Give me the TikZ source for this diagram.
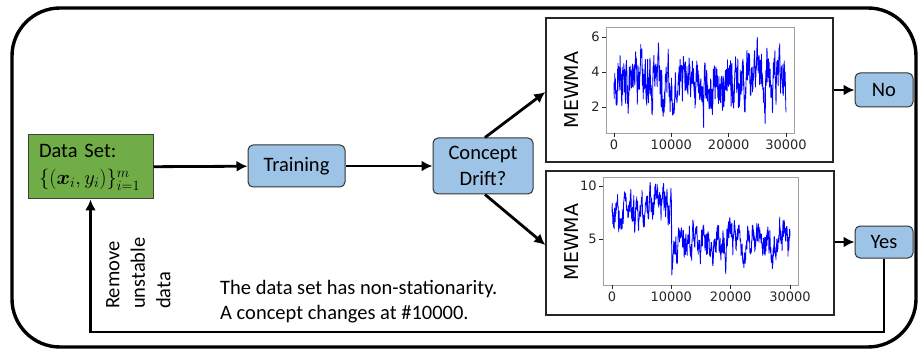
\RequirePackage{fix-cm}
\documentclass[tikz,border=0pt]{standalone}
\usepackage{amsmath}
\usepackage{bm}
\usepackage{fontspec}
\setmainfont{Carlito}
\newfontfamily\plotfont{DejaVu Sans}
\usetikzlibrary{arrows.meta,positioning,calc}

\definecolor{dsgreen}{RGB}{112,173,71}
\definecolor{stepblue}{RGB}{157,195,230}
\definecolor{axisgray}{RGB}{160,160,160}

\tikzset{
  blk/.style={draw=black!80,line width=1pt,fill=stepblue,rounded corners=5pt,align=center,inner sep=0pt},
  flow/.style={-{Latex[length=11pt,width=11pt]},line width=2.8pt},
  plotbox/.style={draw=black!85,line width=1.3pt,inner sep=0pt},
  ticklbl/.style={font=\plotfont\fontsize{13}{15}\selectfont,text=black!85,inner sep=2pt},
  ylbl/.style={font=\plotfont\fontsize{19}{22}\selectfont,rotate=90,inner sep=0pt}
}

\begin{document}
\begin{tikzpicture}[x=1pt,y=-1pt,every node/.append style={font=\fontsize{20.5}{25.5}\selectfont}]
  \useasboundingbox (0,0) rectangle (919,350);
  % outer frame
  \draw[line width=3.4pt,rounded corners=48pt] (12,8) rectangle (916,347);

  % blocks of the flow
  \node[draw=black!75,line width=1pt,fill=dsgreen,minimum width=125,minimum height=64,text width=103,align=left,inner sep=0pt] (data) at (90.5,167) {Data Set:\\[2pt] $\{(\bm{x}_i,y_i)\}_{i=1}^{m}$};
  \node[blk,minimum width=97,minimum height=42] (train) at (296.5,166) {Training};
  \node[blk,minimum width=100,minimum height=56] (drift) at (483,166) {Concept\\Drift?};
  \node[plotbox,minimum width=287,minimum height=144] (calm) at (689.5,90) {};
  \node[plotbox,minimum width=288,minimum height=144] (shift) at (690,243) {};
  \node[blk,minimum width=58,minimum height=34] (no) at (884,90) {No};
  \node[blk,minimum width=58,minimum height=32] (yes) at (884,242) {Yes};

  % top chart: no drift
  \node[ylbl] (calmlbl) at (572,90) {MEWMA};
  \begin{scope}[shift={(614,142)},x=5.733pt,y=17.5pt]
    \draw[axisgray,line width=0.8pt] (-1.4,0.51) rectangle (31.4,6.57);
    \foreach \t/\lbl in {0/0,10/10000,20/20000,30/30000}
      \draw[black!85,line width=0.8pt] (\t,0.51) -- ++(0,-4pt) node[ticklbl,below] {\lbl};
    \foreach \v in {2,4,6}
      \draw[black!85,line width=0.8pt] (-1.4,\v) -- ++(-4pt,0) node[ticklbl,left] {\v};
    \pgfmathsetseed{3}
    \xdef\val{3.4}\xdef\trace{(0,3.4)}
    \foreach \k in {1,...,900}{
      \pgfmathsetmacro\val{3.4+0.75*(\val-3.4)+1.0*rand}
      \pgfmathsetmacro\tpos{\k/30}
      \xdef\val{\val}\xdef\trace{\trace -- (\tpos,\val)}
    }
    \begin{scope}
      \clip (-1.4,0.51) rectangle (31.4,6.57);
      \draw[blue,line width=0.8pt,line join=round] \trace;
    \end{scope}
  \end{scope}

  % bottom chart: drift at 10000
  \node[ylbl] (shiftlbl) at (572,242) {MEWMA};
  \begin{scope}[shift={(612,292)},x=5.933pt,y=10.6pt]
    \draw[axisgray,line width=0.8pt] (-1.52,0.66) rectangle (31.35,10.85);
    \foreach \t/\lbl in {0/0,10/10000,20/20000,30/30000}
      \draw[black!85,line width=0.8pt] (\t,0.66) -- ++(0,-4pt) node[ticklbl,below] {\lbl};
    \foreach \v in {5,10}
      \draw[black!85,line width=0.8pt] (-1.52,\v) -- ++(-4pt,0) node[ticklbl,left] {\v};
    \pgfmathsetseed{17}
    \xdef\val{7.5}\xdef\trace{(0,7.5)}
    \foreach \k in {1,...,900}{
      \pgfmathsetmacro\tpos{\k/30}
      \pgfmathsetmacro\mu{\tpos<10 ? 7.7 : 4.7}
      \pgfmathsetmacro\val{\k==302 ? 1.6 : \mu+0.8*(\val-\mu)+1.0*rand}
      \xdef\val{\val}\xdef\trace{\trace -- (\tpos,\val)}
    }
    \begin{scope}
      \clip (-1.52,0.66) rectangle (31.35,10.85);
      \draw[blue,line width=0.8pt,line join=round] \trace;
    \end{scope}
  \end{scope}

  % connectors
  \draw[flow] (data) -- (train);
  \draw[flow] (train) -- (drift);
  \draw[flow] ([xshift=2pt]drift.north) -- ([yshift=-2pt]calm.west);
  \draw[flow] ([xshift=2pt]drift.south) -- ([yshift=-2pt]shift.west);
  \draw[flow] (calm) -- (no);
  \draw[flow] (shift.east |- yes) -- (yes);
  \coordinate (loop) at (500,332);
  \draw[flow] (yes.south) |- (loop) -| (data.south);

  % texts
  \node[rotate=90,align=left,anchor=north west,inner sep=0pt] (remove) at (106,309) {Remove\\unstable\\data};
  \node[align=left,anchor=north west,inner sep=0pt] (note) at (220,280) {The data set has non-stationarity.\\A concept changes at \#10000.};
\end{tikzpicture}
\end{document}
